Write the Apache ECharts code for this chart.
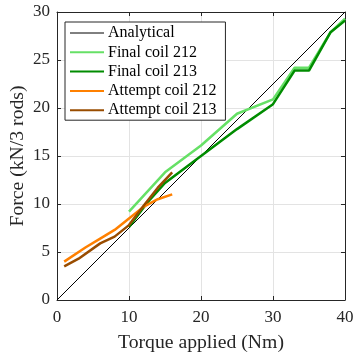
<!DOCTYPE html>
<html><head><meta charset="utf-8">
<script src="https://cdn.jsdelivr.net/npm/echarts@6/dist/echarts.min.js"></script>
<style>html,body{margin:0;padding:0;background:#fff}#c{width:356px;height:356px}</style>
</head><body><div id="c"></div>
<script>
var analyticalX = [0, 40];
var analyticalY = [0, 30];
var final212X = [10, 15, 20, 25, 30, 33, 35, 38, 40];
var final212Y = [9.2, 13.3, 16.1, 19.4, 20.9, 24.2, 24.2, 27.9, 29.3];
var final213X = [10, 12.5, 15, 20, 25, 30, 33, 35, 38, 40];
var final213Y = [7.6, 10.1, 12.2, 15.0, 17.8, 20.4, 23.9, 23.9, 27.9, 29.1];
var att212X = [1, 4, 6, 8, 10, 12, 14, 16];
var att212Y = [4.0, 5.5, 6.4, 7.3, 8.5, 9.7, 10.5, 11.0];
var att213X = [1, 3, 6, 8, 10, 12, 14, 16];
var att213Y = [3.5, 4.3, 5.9, 6.6, 7.8, 9.8, 11.7, 13.3];
var xTicks = [0, 10, 20, 30, 40];
var yTicks = [0, 5, 10, 15, 20, 25, 30];
var names = ['Analytical', 'Final coil 212', 'Final coil 213', 'Attempt coil 212', 'Attempt coil 213'];
var colors = ['#000000', '#66e066', '#008c00', '#ff8000', '#994c00'];

function pts(xs, ys) { return xs.map(function (x, i) { return [x, ys[i]]; }); }
var F = 'Liberation Serif';
var axisCol = '#262626';
function mkX(pos, show) {
  return {
    type: 'value', position: pos, min: 0, max: 40, interval: 10,
    axisLine: { show: true, onZero: false, lineStyle: { color: axisCol, width: 1 } },
    axisTick: { show: true, inside: true, length: 4, lineStyle: { color: axisCol } },
    axisLabel: { show: show, fontFamily: F, fontSize: 17, color: '#262626', margin: 9,
      formatter: function (v) { return xTicks.indexOf(v) >= 0 ? String(v) : ''; } },
    splitLine: { show: show, lineStyle: { color: '#e3e3e3', width: 1 } },
    name: show ? 'Torque applied (Nm)' : '', nameLocation: 'middle', nameGap: 33,
    nameMoveOverlap: false,
    nameTextStyle: { fontFamily: F, fontSize: 19.7, color: '#262626' }
  };
}
function mkY(pos, show) {
  return {
    type: 'value', position: pos, min: 0, max: 30, interval: 5,
    axisLine: { show: true, onZero: false, lineStyle: { color: axisCol, width: 1 } },
    axisTick: { show: true, inside: true, length: 4, lineStyle: { color: axisCol } },
    axisLabel: { show: show, fontFamily: F, fontSize: 17, color: '#262626', margin: 7,
      formatter: function (v) { return yTicks.indexOf(v) >= 0 ? String(v) : ''; } },
    splitLine: { show: show, lineStyle: { color: '#e3e3e3', width: 1 } },
    name: show ? 'Force (kN/3 rods)' : '', nameLocation: 'middle', nameGap: 29,
    nameMoveOverlap: false,
    nameTextStyle: { fontFamily: F, fontSize: 19.7, color: '#262626' }
  };
}
var dataSets = [pts(analyticalX, analyticalY), pts(final212X, final212Y), pts(final213X, final213Y), pts(att212X, att212Y), pts(att213X, att213Y)];
var series = dataSets.map(function (d, i) {
  return {
    name: names[i], type: 'line', data: d, symbol: 'none', smooth: false,
    lineStyle: { color: colors[i], width: i === 0 ? 1 : 2.5 },
    itemStyle: { color: colors[i] }, z: i === 0 ? 1 : 2 + i
  };
});
var chart = echarts.init(document.getElementById('c'), null, { renderer: 'canvas' });
chart.setOption({
  animation: false,
  grid: { left: 57, right: 11, top: 12, bottom: 56, outerBoundsMode: 'none', containLabel: false },
  xAxis: [mkX('bottom', true), mkX('top', false)],
  yAxis: [mkY('left', true), mkY('right', false)],
  legend: {
    orient: 'vertical', left: 65, top: 22, width: 160,
    backgroundColor: '#fff', borderColor: '#262626', borderWidth: 1,
    padding: [3, 9, 2, 4], itemWidth: 34, itemHeight: 16, itemGap: 3.3,
    itemStyle: { opacity: 0 },
    textStyle: { fontFamily: F, fontSize: 16, color: '#000', padding: [0, 0, 0, -1] },
    data: names.map(function (n, i) { return i === 0 ? { name: n, lineStyle: { width: 1 } } : n; })
  },
  series: series
});
</script></body></html>
